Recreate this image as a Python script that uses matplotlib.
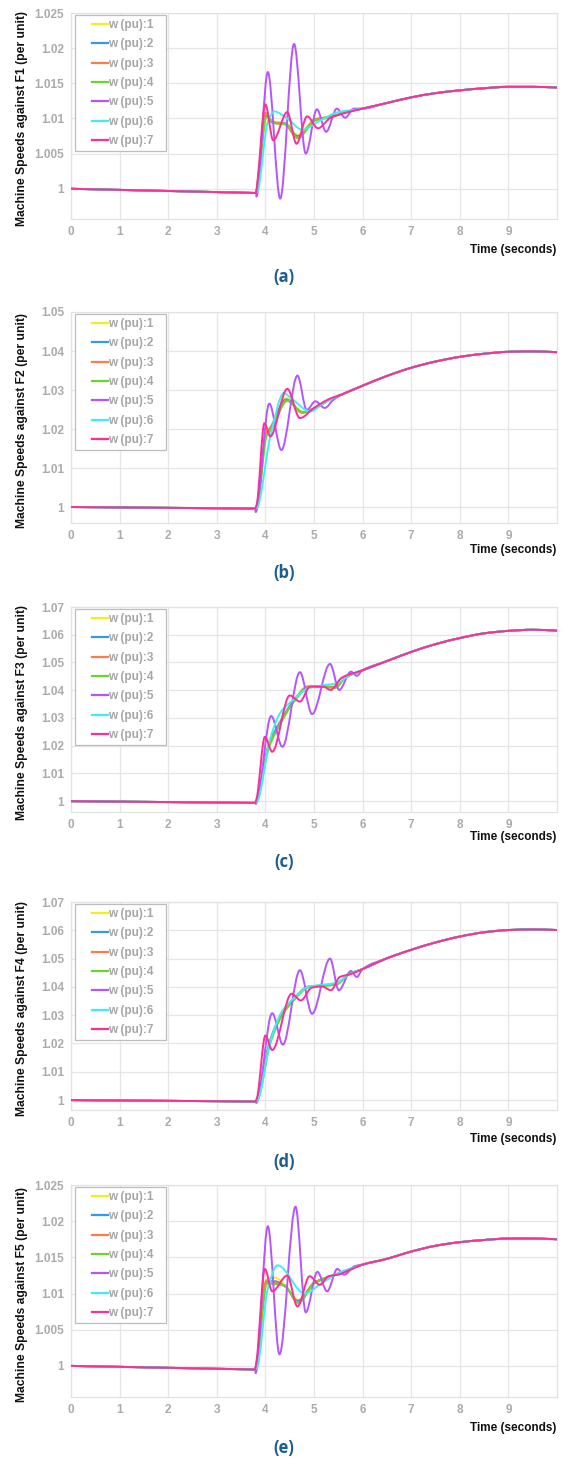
import numpy as np
import matplotlib
matplotlib.use("Agg")
import matplotlib.pyplot as plt
from matplotlib.path import Path
from matplotlib.patches import PathPatch
from matplotlib.lines import Line2D
from matplotlib.legend_handler import HandlerLine2D

# ---------------- data (time s, speed pu) ----------------
series_labels = ["w (pu):1", "w (pu):2", "w (pu):3", "w (pu):4", "w (pu):5", "w (pu):6", "w (pu):7"]
series_colors = ["#f4ee1c", "#2f9bf0", "#ff7b47", "#6bd62a", "#b455ff", "#3cf0f0", "#ff2d96"]
panel_letters = ["(a)", "(b)", "(c)", "(d)", "(e)"]
ylabels = ["Machine Speeds against F1 (per unit)", "Machine Speeds against F2 (per unit)",
           "Machine Speeds against F3 (per unit)", "Machine Speeds against F4 (per unit)",
           "Machine Speeds against F5 (per unit)"]
x_ticks = [0, 1, 2, 3, 4, 5, 6, 7, 8, 9]
y_ticks_small = [1.0, 1.005, 1.01, 1.015, 1.02, 1.025]
y_labels_small = ["1", "1.005", "1.01", "1.015", "1.02", "1.025"]
y_ticks_b = [1.0, 1.01, 1.02, 1.03, 1.04, 1.05]
y_labels_b = ["1", "1.01", "1.02", "1.03", "1.04", "1.05"]
y_ticks_cd = [1.0, 1.01, 1.02, 1.03, 1.04, 1.05, 1.06, 1.07]
y_labels_cd = ["1", "1.01", "1.02", "1.03", "1.04", "1.05", "1.06", "1.07"]

# ---- panel (a) ----
a_pre = [(0.0, 1.0), (3.81, 0.9994)]
a_tail = [(6.0, 1.0114), (6.5, 1.0122), (7.0, 1.0130), (7.5, 1.0136), (8.0, 1.0140),
          (8.5, 1.0143), (9.0, 1.0145), (9.5, 1.0145), (10.0, 1.0144)]
a_w1 = [(3.84, 1.0010), (4.00, 1.0106), (4.15, 1.0096), (4.40, 1.0094), (4.66, 1.0077), (5.03, 1.0099), (5.37, 1.0103), (5.70, 1.0110)]
a_w2 = [(3.84, 1.0008), (4.01, 1.0104), (4.15, 1.0094), (4.40, 1.0093), (4.66, 1.0075), (5.03, 1.0098), (5.37, 1.0103), (5.70, 1.0110)]
a_w3 = [(3.84, 1.0008), (4.00, 1.0108), (4.15, 1.0095), (4.40, 1.0092), (4.65, 1.0073), (5.03, 1.0099), (5.37, 1.0103), (5.70, 1.0110)]
a_w4 = [(3.85, 1.0005), (4.02, 1.0102), (4.20, 1.0093), (4.45, 1.0091), (4.66, 1.0072), (5.03, 1.0097), (5.37, 1.0102), (5.70, 1.0110)]
a_w5 = [(3.815, 0.9989), (4.05, 1.0166), (4.305, 0.9986), (4.59, 1.0206), (4.83, 1.0050), (5.06, 1.0113),
        (5.25, 1.0081), (5.47, 1.0114), (5.64, 1.0101), (5.82, 1.0114)]
a_w6 = [(3.83, 0.9995), (4.05, 1.0095), (4.18, 1.0110), (4.45, 1.0100), (4.76, 1.0084), (5.10, 1.0096), (5.50, 1.0109)]
a_w7 = [(3.83, 1.0005), (4.00, 1.0120), (4.16, 1.0069), (4.45, 1.0109), (4.64, 1.0064), (4.86, 1.0103),
        (5.08, 1.0086), (5.34, 1.0101), (5.60, 1.0107)]

# ---- panel (b) ----
b_pre = [(0.0, 1.0), (3.79, 0.9996)]
b_tail = [(5.6, 1.0290), (6.0, 1.0311), (6.5, 1.0336), (7.0, 1.0357), (7.5, 1.0373), (8.0, 1.0385),
          (8.5, 1.0393), (9.0, 1.0398), (9.5, 1.0399), (10.0, 1.0397)]
b_w1 = [(3.82, 1.0003), (4.02, 1.0192), (4.10, 1.0205), (4.43, 1.0279), (4.76, 1.0241), (5.07, 1.0258), (5.34, 1.0277)]
b_w2 = [(3.82, 1.0002), (4.02, 1.0188), (4.10, 1.0202), (4.43, 1.0276), (4.76, 1.0242), (5.07, 1.0258), (5.34, 1.0277)]
b_w3 = [(3.82, 1.0003), (4.02, 1.0190), (4.10, 1.0200), (4.44, 1.0274), (4.75, 1.0243), (5.07, 1.0257), (5.34, 1.0277)]
b_w4 = [(3.83, 1.0001), (4.03, 1.0185), (4.12, 1.0198), (4.45, 1.0272), (4.77, 1.0244), (5.07, 1.0256), (5.34, 1.0276)]
b_w5 = [(3.80, 0.9987), (4.08, 1.0265), (4.33, 1.0146), (4.66, 1.0337), (4.85, 1.0249), (5.03, 1.0271),
        (5.22, 1.0254), (5.40, 1.0275)]
b_w6 = [(3.82, 0.9997), (4.10, 1.0180), (4.38, 1.0292), (4.52, 1.0280), (4.93, 1.0245), (5.20, 1.0267), (5.45, 1.0282)]
b_w7 = [(3.82, 1.0005), (3.98, 1.0215), (4.10, 1.0181), (4.45, 1.0303), (4.71, 1.0228), (5.00, 1.0254), (5.28, 1.0275)]

# ---- panel (c) ----
c_pre = [(0.0, 1.0), (3.79, 0.9994)]
c_tail = [(6.0, 1.0472), (6.5, 1.0505), (7.0, 1.0538), (7.5, 1.0566), (8.0, 1.0588), (8.5, 1.0605),
          (9.0, 1.0614), (9.5, 1.0618), (10.0, 1.0615)]
c_w1 = [(3.82, 1.0003), (4.06, 1.0196), (4.30, 1.0280), (4.57, 1.0359), (4.88, 1.0416), (5.19, 1.0413), (5.43, 1.0410), (5.65, 1.0446)]
c_w2 = [(3.82, 1.0002), (4.06, 1.0200), (4.30, 1.0285), (4.57, 1.0360), (4.88, 1.0412), (5.19, 1.0414), (5.43, 1.0412), (5.65, 1.0446)]
c_w3 = [(3.82, 1.0003), (4.06, 1.0194), (4.30, 1.0278), (4.57, 1.0356), (4.88, 1.0413), (5.19, 1.0413), (5.43, 1.0411), (5.65, 1.0446)]
c_w4 = [(3.83, 1.0001), (4.07, 1.0192), (4.30, 1.0276), (4.57, 1.0355), (4.90, 1.0410), (5.19, 1.0412), (5.43, 1.0408), (5.65, 1.0445)]
c_w5 = [(3.80, 0.9990), (4.12, 1.0307), (4.35, 1.0196), (4.71, 1.0465), (4.96, 1.0314), (5.33, 1.0495),
        (5.52, 1.0401), (5.76, 1.0467), (5.88, 1.0452)]
c_w6 = [(3.82, 0.9996), (4.09, 1.0220), (4.30, 1.0317), (4.57, 1.0365), (4.88, 1.0407), (5.19, 1.0418), (5.47, 1.0425), (5.74, 1.0455)]
c_w7 = [(3.82, 1.0010), (3.99, 1.0232), (4.14, 1.0178), (4.50, 1.0381), (4.71, 1.0359), (4.92, 1.0413),
        (5.19, 1.0413), (5.34, 1.0401), (5.57, 1.0445)]

# ---- panel (d) ----
d_pre = [(0.0, 1.0), (3.80, 0.9995)]
d_tail = [(6.0, 1.0463), (6.5, 1.0501), (7.0, 1.0531), (7.5, 1.0557), (8.0, 1.0578), (8.5, 1.0593),
          (9.0, 1.0601), (9.5, 1.0603), (10.0, 1.0601)]
d_w1 = [(3.83, 1.0003), (4.09, 1.0205), (4.33, 1.0300), (4.60, 1.0360), (4.88, 1.0402), (5.23, 1.0405), (5.47, 1.0410), (5.71, 1.0445)]
d_w2 = [(3.83, 1.0002), (4.09, 1.0208), (4.33, 1.0304), (4.60, 1.0362), (4.88, 1.0400), (5.23, 1.0406), (5.47, 1.0412), (5.71, 1.0445)]
d_w3 = [(3.83, 1.0003), (4.09, 1.0203), (4.33, 1.0298), (4.60, 1.0358), (4.88, 1.0401), (5.23, 1.0405), (5.47, 1.0410), (5.71, 1.0445)]
d_w4 = [(3.84, 1.0001), (4.10, 1.0200), (4.33, 1.0295), (4.60, 1.0356), (4.90, 1.0399), (5.23, 1.0404), (5.47, 1.0409), (5.71, 1.0444)]
d_w5 = [(3.81, 0.9990), (4.14, 1.0307), (4.36, 1.0196), (4.71, 1.0459), (4.96, 1.0305), (5.33, 1.0500),
        (5.51, 1.0388), (5.76, 1.0456), (5.88, 1.0435)]
d_w6 = [(3.83, 0.9997), (4.09, 1.0200), (4.33, 1.0310), (4.60, 1.0362), (4.88, 1.0400), (5.20, 1.0408), (5.47, 1.0415), (5.72, 1.0445)]
d_w7 = [(3.83, 1.0010), (4.00, 1.0228), (4.14, 1.0177), (4.54, 1.0376), (4.73, 1.0352), (4.95, 1.0397),
        (5.16, 1.0402), (5.35, 1.0388), (5.53, 1.0435), (5.75, 1.0445)]

# ---- panel (e) ----
e_pre = [(0.0, 1.0), (3.79, 0.9995)]
e_tail = [(6.0, 1.0140), (6.5, 1.0148), (7.0, 1.0158), (7.5, 1.0166), (8.0, 1.0171), (8.5, 1.0174),
          (9.0, 1.0176), (9.5, 1.0176), (10.0, 1.0175)]
e_w1 = [(3.82, 1.0004), (4.02, 1.0119), (4.19, 1.0122), (4.40, 1.0112), (4.67, 1.0091), (5.01, 1.0116), (5.42, 1.0126), (5.75, 1.0134)]
e_w2 = [(3.82, 1.0003), (4.02, 1.0116), (4.19, 1.0117), (4.40, 1.0110), (4.67, 1.0090), (5.01, 1.0115), (5.42, 1.0126), (5.75, 1.0134)]
e_w3 = [(3.82, 1.0004), (4.02, 1.0118), (4.19, 1.0115), (4.40, 1.0110), (4.68, 1.0088), (5.01, 1.0115), (5.42, 1.0125), (5.75, 1.0134)]
e_w4 = [(3.83, 1.0002), (4.03, 1.0114), (4.20, 1.0113), (4.40, 1.0111), (4.67, 1.0087), (5.01, 1.0114), (5.42, 1.0125), (5.75, 1.0133)]
e_w5 = [(3.80, 0.9990), (4.05, 1.0193), (4.29, 1.0016), (4.62, 1.0220), (4.83, 1.0074), (5.07, 1.0130),
        (5.27, 1.0103), (5.48, 1.0134), (5.62, 1.0126), (5.84, 1.0138)]
e_w6 = [(3.82, 0.9996), (4.05, 1.0107), (4.25, 1.0139), (4.81, 1.0100), (5.15, 1.0114), (5.49, 1.0128), (5.77, 1.0135)]
e_w7 = [(3.82, 1.0008), (3.99, 1.0134), (4.14, 1.0103), (4.45, 1.0125), (4.66, 1.0082), (4.91, 1.0124),
        (5.12, 1.0112), (5.30, 1.0124), (5.49, 1.0126), (5.75, 1.0133)]

panels = [
    (a_pre, a_tail, [a_w1, a_w2, a_w3, a_w4, a_w5, a_w6, a_w7], y_ticks_small, y_labels_small),
    (b_pre, b_tail, [b_w1, b_w2, b_w3, b_w4, b_w5, b_w6, b_w7], y_ticks_b, y_labels_b),
    (c_pre, c_tail, [c_w1, c_w2, c_w3, c_w4, c_w5, c_w6, c_w7], y_ticks_cd, y_labels_cd),
    (d_pre, d_tail, [d_w1, d_w2, d_w3, d_w4, d_w5, d_w6, d_w7], y_ticks_cd, y_labels_cd),
    (e_pre, e_tail, [e_w1, e_w2, e_w3, e_w4, e_w5, e_w6, e_w7], y_ticks_small, y_labels_small),
]

# ---------------- layout (pixels) ----------------
W, H = 565, 1461
LEFT, RIGHT = 71, 557
AX_TB = [(13, 219), (312, 523), (607, 812), (902, 1110), (1185, 1397)]
YLIMS = [(0.9957, 1.025), (0.9959, 1.05), (0.9961, 1.07), (0.9965, 1.07), (0.9957, 1.025)]
TIME_Y = [250, 550, 837, 1139, 1428]
LETTER_Y = [277, 573, 862, 1162, 1448]
XLIM = (0, 10)

FONT = ["Liberation Sans", "DejaVu Sans"]
plt.rcParams["font.family"] = FONT


def smooth_path(pre, pts):
    """Straight pre-fault segment, then a monotone cubic (PCHIP-style) Bezier
    path through the read points."""
    verts = [tuple(pre[0])]
    codes = [Path.MOVETO]
    for p in pre[1:]:
        verts.append(tuple(p))
        codes.append(Path.LINETO)
    allp = [pre[-1]] + list(pts)
    x = np.array([p[0] for p in allp], float)
    y = np.array([p[1] for p in allp], float)
    h = np.diff(x)
    d = np.diff(y) / h
    n = len(x)
    m = np.zeros(n)
    m[0], m[-1] = d[0], d[-1]
    for i in range(1, n - 1):
        if d[i - 1] * d[i] <= 0:
            m[i] = 0.0
        else:
            w1 = 2 * h[i] + h[i - 1]
            w2 = h[i] + 2 * h[i - 1]
            m[i] = (w1 + w2) / (w1 / d[i - 1] + w2 / d[i])
    for i in range(n - 1):
        verts += [(x[i] + h[i] / 3, y[i] + m[i] * h[i] / 3),
                  (x[i + 1] - h[i] / 3, y[i + 1] - m[i + 1] * h[i] / 3),
                  (x[i + 1], y[i + 1])]
        codes += [Path.CURVE4] * 3
    return Path(verts, codes)


fig = plt.figure(figsize=(W / 100, H / 100), dpi=100)

for k, (pre, tail, series, yt, ytl) in enumerate(panels):
    top, bot = AX_TB[k]
    ax = fig.add_axes([LEFT / W, 1 - bot / H, (RIGHT - LEFT) / W, (bot - top) / H])
    ax.set_xlim(*XLIM)
    ax.set_ylim(*YLIMS[k])
    ax.set_xticks(x_ticks)
    ax.set_xticklabels([str(v) for v in x_ticks])
    ax.set_yticks(yt)
    ax.set_yticklabels(ytl)
    ax.tick_params(length=0, labelsize=8.5, labelcolor="#ababab", pad=5)
    for lab in ax.get_xticklabels() + ax.get_yticklabels():
        lab.set_fontweight("bold")
    ax.grid(True, color="#e6e6e6", lw=0.9)
    ax.set_axisbelow(True)
    for sp in ax.spines.values():
        sp.set_color("#e2e2e2")
        sp.set_linewidth(0.9)

    for j, trans in enumerate(series):
        last_t = trans[-1][0]
        pts = list(trans) + [p for p in tail if p[0] > last_t + 0.05]
        patch = PathPatch(smooth_path(pre, pts), fill=False, edgecolor=series_colors[j],
                          lw=1.4, zorder=2 + j, transform=ax.transData, capstyle="round",
                          joinstyle="round")
        ax.add_patch(patch)

    handles = [Line2D([], [], color=c, lw=1.6) for c in series_colors]
    leg_w = 91 / (RIGHT - LEFT)
    leg = ax.legend(handles, series_labels, loc="upper left",
                    bbox_to_anchor=(3.5 / (RIGHT - LEFT), 1 - 2 / (bot - top), leg_w, 0.0),
                    mode="expand", fontsize=8.5, labelspacing=0.62, handlelength=2.45,
                    handletextpad=0.05, borderpad=0.35, borderaxespad=0.0,
                    fancybox=False, framealpha=1.0, edgecolor="#bdbdbd",
                    handler_map={Line2D: HandlerLine2D(xpad=1.1)},
                    prop={"weight": "bold", "size": 8.5, "family": FONT})
    leg.get_frame().set_linewidth(0.9)
    for t in leg.get_texts():
        t.set_color("#a6a6a6")
    leg.set_zorder(20)

    fig.text(22 / W, 1 - ((top + bot) / 2 + 3) / H, ylabels[k], rotation=90, ha="center", va="center",
             fontsize=8.7, fontweight="bold", color="#111111")
    fig.text(556 / W, 1 - TIME_Y[k] / H, "Time (seconds)", ha="right", va="center",
             fontsize=8.5, fontweight="bold", color="#111111")
    fig.text(284 / W, 1 - LETTER_Y[k] / H, panel_letters[k], ha="center", va="center",
             fontsize=12, fontweight="bold", color="#1b5e8f",
             family=["Open Sans", "DejaVu Sans"])

fig.savefig("out.png", dpi=100, facecolor="white")
